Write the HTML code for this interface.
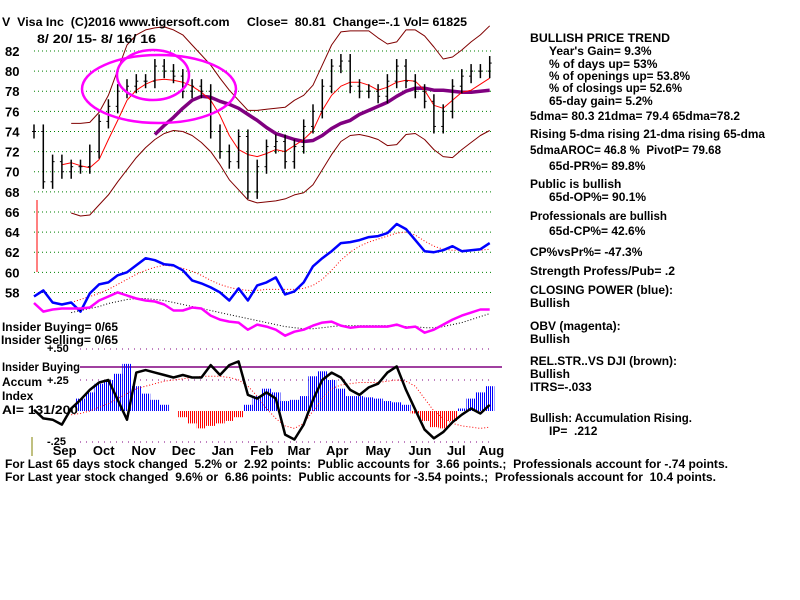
<!DOCTYPE html>
<html><head><meta charset="utf-8"><style>
html,body{margin:0;padding:0;background:#fff;}
svg{display:block;font-family:"Liberation Sans",sans-serif;font-weight:bold;}
svg text{white-space:pre;}
</style></head><body>
<svg id="chart" width="800" height="600" viewBox="0 0 800 600" xmlns="http://www.w3.org/2000/svg">
<defs>
<pattern id="stripeB" width="2" height="4" patternUnits="userSpaceOnUse"><rect x="0" y="0" width="1" height="4" fill="#0000ff"/></pattern>
<pattern id="stripeR" width="2" height="4" patternUnits="userSpaceOnUse"><rect x="0" y="0" width="1" height="4" fill="#ff0000"/></pattern>
</defs>
<g id="grid"></g>
<g id="marks"></g>
<g id="labels" font-size="12" fill="#000">
<text x="2" y="26" textLength="465" lengthAdjust="spacingAndGlyphs">V  Visa Inc  (C)2016 www.tigersoft.com     Close=  80.81  Change=-.1 Vol= 61825</text>
<text x="37" y="43" textLength="119" lengthAdjust="spacingAndGlyphs">8/ 20/ 15- 8/ 16/ 16</text>
<text x="2" y="331" textLength="116" lengthAdjust="spacingAndGlyphs">Insider Buying= 0/65</text>
<text x="1" y="344" textLength="117" lengthAdjust="spacingAndGlyphs">Insider Selling= 0/65</text>
<text x="47" y="352" font-size="11">+.50</text>
<text x="2" y="371" textLength="78" lengthAdjust="spacingAndGlyphs">Insider Buying</text>
<text x="2" y="386">Accum</text>
<text x="47" y="384" font-size="11">+.25</text>
<text x="2" y="400">Index</text>
<text x="2" y="414" textLength="76" lengthAdjust="spacingAndGlyphs">AI= 131/200</text>
<text x="47" y="445" font-size="11">-.25</text>
<text x="5" y="468" textLength="723" lengthAdjust="spacingAndGlyphs">For Last 65 days stock changed  5.2% or  2.92 points:  Public accounts for  3.66 points.;  Professionals account for -.74 points.</text>
<text x="5" y="481" textLength="711" lengthAdjust="spacingAndGlyphs">For Last year stock changed  9.6% or  6.86 points:  Public accounts for -3.54 points.;  Professionals account for  10.4 points.</text>
</g>
<g id="side" font-size="12" fill="#000">
<text x="530" y="42" textLength="140" lengthAdjust="spacingAndGlyphs">BULLISH PRICE TREND</text>
<text x="549" y="55">Year's Gain= 9.3%</text>
<text x="549" y="68">% of days up= 53%</text>
<text x="549" y="80" textLength="141" lengthAdjust="spacingAndGlyphs">% of openings up= 53.8%</text>
<text x="549" y="92" textLength="133" lengthAdjust="spacingAndGlyphs">% of closings up= 52.6%</text>
<text x="549" y="105">65-day gain= 5.2%</text>
<text x="530" y="120" textLength="210" lengthAdjust="spacingAndGlyphs">5dma= 80.3 21dma= 79.4 65dma=78.2</text>
<text x="530" y="138" textLength="235" lengthAdjust="spacingAndGlyphs">Rising 5-dma rising 21-dma rising 65-dma</text>
<text x="530" y="154" textLength="191" lengthAdjust="spacingAndGlyphs">5dmaAROC= 46.8 %  PivotP= 79.68</text>
<text x="549" y="170">65d-PR%= 89.8%</text>
<text x="530" y="188">Public is bullish</text>
<text x="549" y="201">65d-OP%= 90.1%</text>
<text x="530" y="220" textLength="137" lengthAdjust="spacingAndGlyphs">Professionals are bullish</text>
<text x="549" y="235">65d-CP%= 42.6%</text>
<text x="530" y="256">CP%vsPr%= -47.3%</text>
<text x="530" y="275" textLength="145" lengthAdjust="spacingAndGlyphs">Strength Profess/Pub= .2</text>
<text x="530" y="294" textLength="143" lengthAdjust="spacingAndGlyphs">CLOSING POWER (blue):</text>
<text x="530" y="307">Bullish</text>
<text x="530" y="330">OBV (magenta):</text>
<text x="530" y="343">Bullish</text>
<text x="530" y="365" textLength="147" lengthAdjust="spacingAndGlyphs">REL.STR..VS DJI (brown):</text>
<text x="530" y="378">Bullish</text>
<text x="530" y="391">ITRS=-.033</text>
<text x="530" y="422" textLength="162" lengthAdjust="spacingAndGlyphs">Bullish: Accumulation Rising.</text>
<text x="549" y="435">IP=  .212</text>
</g>
</svg>
<script>
const NS="http://www.w3.org/2000/svg";
const priceTicks=[82,80,78,76,74,72,70,68,66,64,62,60,58];
const months=["Sep","Oct","Nov","Dec","Jan","Feb","Mar","Apr","May","Jun","Jul","Aug"];
const monthIdx=[3.3,7.5,11.8,16.1,20.3,24.5,28.5,32.6,37,41.5,45.4,49.2];
const closes=[74,69,71,70,70.5,70.5,72,75,76.5,78,78.5,79,79,80.5,80,79.5,78,78.5,78,74,72,71,73.5,68,70.5,72.5,73,71,72.5,74.5,76,78.5,80.5,81,78.5,78,78,77.5,79,80.5,79,78,77,74.5,76,78.5,79.5,80,80,80.8];
const upperBand=[null,null,null,null,74.8,74.8,74.9,75.9,77.6,80.1,82.6,83.6,84.1,84.3,84.4,84.1,83.6,82.6,81.6,80.6,79.3,78.1,77.1,76.1,76.1,76.2,76.3,76.4,77.1,77.6,78.6,80.6,82.6,83.9,84,84,84,83.3,82.7,82.9,84.1,84.1,83.5,82.4,81.2,81.4,82.1,82.9,83.6,84.5];
const lowerBand=[null,null,null,null,65.9,65.6,65.7,66.7,67.7,69,70.2,71.4,72.4,73.2,73.8,74.1,74,73.6,72.9,72,70.7,69.2,68.2,67.2,66.9,67,67.1,67.3,67.7,67.9,68.7,70.2,71.7,73,73.6,73.7,73.5,73.2,72.6,72.7,73.7,73.8,73.2,72.2,71.5,71.4,72.2,72.9,73.6,74.1];
const ma21=[null,null,null,70.7,70.9,70.6,70.4,71.2,73.2,75.1,77.1,78.1,78.7,79.1,79.2,79.1,78.9,78.5,77.9,77.1,75.6,73.6,72.2,71.7,71.5,71.8,72.2,72,72.6,73.2,74.1,76.1,77.6,78.5,78.9,78.9,78.6,78.1,78.4,78.9,79.1,79,78.1,76.6,76.3,77.1,77.9,78.1,78.7,79.3];
const ma65=[null,null,null,null,null,null,null,null,null,null,null,null,null,73.7,74.6,75.4,76.3,77.1,77.5,77.4,77,76.7,76.3,75.7,75.1,74.4,73.8,73.5,73.2,73,73.1,73.6,74.3,74.8,75.1,75.7,76.1,76.5,76.9,77.5,78,78.3,78.3,78.1,78.1,78,77.9,77.9,78,78.1];
const closingPower=[57.6,58.2,57,56.8,57,56.1,57.9,58.8,59,59.7,60,60.7,61.4,61.2,60.8,60.7,60.2,59.2,58.9,58.5,58,57.2,58.4,57.2,58.7,59,59.5,57.8,58.1,59,60.6,61.4,62.1,62.9,63,63.2,63.5,63.6,63.9,64.8,64.3,63.2,62.1,62,62.2,62.6,62.1,62.2,62.3,62.9];
const cpMA=[null,null,null,null,57.0,57.3,57.6,57.9,58.3,58.8,59.3,59.8,60.2,60.5,60.7,60.6,60.4,60.1,59.7,59.2,58.8,58.5,58.3,58.2,58.2,58.3,58.3,58.3,58.3,58.4,58.7,59.3,60.2,61.2,62,62.6,63,63.3,63.6,63.9,64,63.7,63.1,62.6,62.3,62.2,62.2,62.2,62.2,62.3];
const obv=[56.95,56.1,56.3,56.4,56.4,56.4,56.5,57.2,57.6,58,57.7,57.4,57.2,57.1,56.8,56.2,56.2,56.5,56.4,55.7,55.3,55.1,55,54.3,54.8,54.6,54.3,53.7,54.1,54.3,54.7,55,55.1,54.7,54.5,54.6,54.6,54.6,54.6,54.8,54.5,54.6,54,54.3,54.8,55.3,55.7,56,56.3,56.3];
const obvMA=[null,null,null,null,56.0,56.2,56.4,56.6,56.9,57.1,57.3,57.4,57.4,57.3,57.2,57.0,56.8,56.6,56.4,56.2,56.0,55.8,55.6,55.4,55.2,55.0,54.8,54.6,54.5,54.4,54.4,54.5,54.6,54.7,54.7,54.7,54.7,54.7,54.7,54.7,54.6,54.6,54.5,54.5,54.6,54.8,55.0,55.3,55.6,55.9];
const accumIndex=[0,-0.02,0.02,0.05,0.08,0.1,0.15,0.22,0.25,0.3,0.38,0.2,0.14,0.09,0.05,0,-0.05,-0.1,-0.14,-0.12,-0.1,-0.08,-0.05,0.05,0.12,0.18,0.15,0.08,0.09,0.12,0.28,0.32,0.25,0.18,0.12,0.12,0.11,0.1,0.08,0.07,0.05,-0.02,-0.08,-0.13,-0.14,-0.08,0.02,0.1,0.15,0.2];
const relLine=[0.01,-0.06,-0.07,-0.11,0.02,0.09,0.17,0.23,0.25,0.09,-0.07,0.31,0.33,0.31,0.29,0.27,0.29,0.27,0.27,0.37,0.29,0.37,0.4,0.13,0.1,0.15,0.1,-0.19,-0.23,-0.11,0.09,0.25,0.31,0.27,0.17,0.13,0.19,0.22,0.31,0.36,0.17,0.01,-0.15,-0.22,-0.17,-0.09,-0.03,0.02,-0.02,0.05];
const aiMA=[null,null,null,null,-0.03,-0.02,0.0,0.03,0.06,0.1,0.14,0.18,0.2,0.22,0.24,0.25,0.26,0.27,0.28,0.28,0.28,0.27,0.25,0.2,0.12,0.02,-0.06,-0.12,-0.14,-0.1,0.0,0.1,0.18,0.21,0.22,0.23,0.23,0.23,0.24,0.25,0.24,0.2,0.1,0.0,-0.06,-0.1,-0.12,-0.13,-0.14,-0.13];

const X0=34,DX=9.3;
const xs=i=>X0+i*DX;
const yp=p=>51+(82-p)*10.06;
const ya=v=>411-v*124;
const grid=document.getElementById('grid');
const marks=document.getElementById('marks');
function mk(tag,attrs,parent){const e=document.createElementNS(NS,tag);for(const k in attrs)e.setAttribute(k,attrs[k]);parent.appendChild(e);return e;}
function path(arr,yf){let d="";let pen=false;arr.forEach((v,i)=>{if(v==null){pen=false;return;}d+=(pen?"L":"M")+xs(i).toFixed(1)+","+yf(v).toFixed(1);pen=true;});return d;}

priceTicks.forEach(t=>{
  const l=mk('line',{x1:34,x2:492,y1:yp(t),y2:yp(t),stroke:'#008000','stroke-dasharray':'1,3','stroke-width':1},grid);
  
  
  const tx=mk('text',{x:5,y:yp(t)+5,'font-size':13,fill:'#000'},grid);
  tx.textContent=t;
  
  
});
[0.5,0.25,-0.25].forEach(v=>{
  const l=mk('line',{x1:80,x2:492,y1:ya(v),y2:ya(v),stroke:'#800080','stroke-dasharray':'1,5','stroke-width':1},grid);
  
  
});
const ib=mk('line',{x1:80,x2:502,y1:367,y2:367,stroke:'#800080','stroke-width':1.5},grid);


const ol=mk('line',{x1:32,x2:32,y1:437,y2:456,stroke:'#808000','stroke-width':1},grid);


months.forEach((m,i)=>{
  const t=mk('text',{x:xs(monthIdx[i]),y:455,'text-anchor':'middle','font-size':13,fill:'#000'},grid);
  t.textContent=m;
  
  
});

accumIndex.forEach((v,i)=>{
  if(xs(i)<76)return;
  const y0=ya(0),y1=ya(v);
  const r=mk('rect',{x:xs(i)-DX/2,width:DX,y:Math.min(y0,y1),height:Math.abs(y1-y0),fill:v>=0?'url(#stripeB)':'url(#stripeR)'},marks);
  
  
});
function line(arr,yf,stroke,w,name,dash){
  const a={d:path(arr,yf),fill:'none',stroke:stroke,'stroke-width':w,'stroke-linejoin':'round'};
  if(dash)a['stroke-dasharray']=dash;
  const p=mk('path',a,marks);
  
  
}
line(aiMA,ya,'#ff0000',1,'ai-moving-average','1,2');
line(relLine,ya,'#000',2.5,'relative-strength-line');

line(upperBand,yp,'#800000',1,'upper-band');
line(lowerBand,yp,'#800000',1,'lower-band');
line(ma65,yp,'#800080',3.5,'ma65-line');
line(ma21,yp,'#ff0000',1,'ma21-line');
closes.forEach((c,i)=>{
  const prev=i>0?closes[i-1]:c;
  const hi=Math.max(prev,c)+0.7,lo=Math.min(prev,c)-0.7;
  const b=mk('line',{x1:xs(i),x2:xs(i),y1:yp(hi),y2:yp(lo),stroke:'#000','stroke-width':1.5},marks);
  
  
  const o=mk('line',{x1:xs(i)-2,x2:xs(i),y1:yp(prev),y2:yp(prev),stroke:'#000','stroke-width':1},marks);
  
  
  const t=mk('line',{x1:xs(i),x2:xs(i)+2,y1:yp(c),y2:yp(c),stroke:'#000','stroke-width':1},marks);
  
  
});
line(cpMA,yp,'#ff0000',1,'closing-power-ma','1,2');
line(closingPower,yp,'#0000ff',2.5,'closing-power-line');
line(obvMA,yp,'#000',1,'obv-ma','1,2');
line(obv,yp,'#ff00ff',2.5,'obv-line');

const e1=mk('ellipse',{cx:159,cy:89,rx:77,ry:34,fill:'none',stroke:'#ff00ff','stroke-width':2.5},marks);


const e2=mk('ellipse',{cx:153,cy:75,rx:36,ry:25,fill:'none',stroke:'#ff00ff','stroke-width':2.5},marks);


const rv=mk('line',{x1:37,x2:37,y1:200,y2:272,stroke:'#ff0000','stroke-width':1},marks);


</script>
</body></html>
